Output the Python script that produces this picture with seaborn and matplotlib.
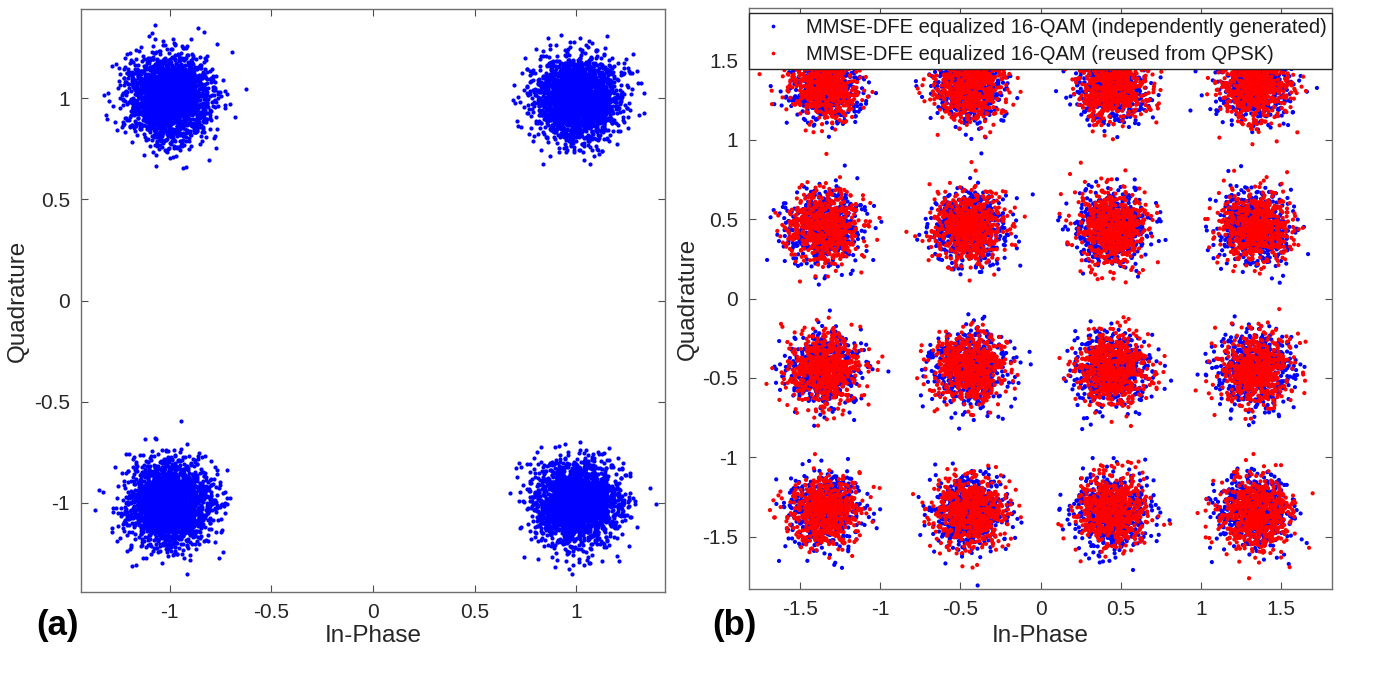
import numpy as np
import pandas as pd
import seaborn as sns
import matplotlib.pyplot as plt
from matplotlib.ticker import FuncFormatter

# constellation centres
qpsk_levels = [-1.0, 1.0]
qam_levels = [-1.342, -0.447, 0.447, 1.342]

# spread / count per cluster estimated from the clouds
qpsk_sigma = 0.10
qam_sigma_indep = 0.11
qam_sigma_reused = 0.11
qpsk_per_cluster = 2500
qam_per_cluster = 625

legend_labels = ['MMSE-DFE equalized 16-QAM (independently generated)',
                 'MMSE-DFE equalized 16-QAM (reused from QPSK)']

# noise samples around the centres (the picture is a noise cloud)
rng = np.random.default_rng(7)


def cloud(levels, sigma, n):
    rows = []
    for i in levels:
        for q in levels:
            rows.append(pd.DataFrame({
                'I': i + sigma * rng.standard_normal(n),
                'Q': q + sigma * rng.standard_normal(n),
            }))
    return pd.concat(rows, ignore_index=True)


qpsk_df = cloud(qpsk_levels, qpsk_sigma, qpsk_per_cluster)
qam_a = cloud(qam_levels, qam_sigma_indep, qam_per_cluster)
qam_a['kind'] = legend_labels[0]
qam_b = cloud(qam_levels, qam_sigma_reused, qam_per_cluster)
qam_b['kind'] = legend_labels[1]
qam_df = pd.concat([qam_a, qam_b], ignore_index=True)

sns.set_style('white')
plt.rcParams['font.family'] = ['Liberation Sans', 'DejaVu Sans']
plt.rcParams['axes.unicode_minus'] = False

fig = plt.figure(figsize=(13.75, 6.84), dpi=100)
ax_a = fig.add_axes([81 / 1375, 1 - 592 / 684, 584 / 1375, 583 / 684])
ax_b = fig.add_axes([749 / 1375, 1 - 589 / 684, 583 / 1375, 581 / 684])

sns.scatterplot(data=qpsk_df, x='I', y='Q', color='#0000ff', s=9,
                linewidth=0, ax=ax_a, legend=False)
sns.scatterplot(data=qam_df, x='I', y='Q', hue='kind',
                palette=['#0000ff', '#ff0000'], s=9, linewidth=0, ax=ax_b)

fmt = FuncFormatter(lambda v, p: '%g' % v)
ax_a.set_xlim(-1.435, 1.435)
ax_a.set_ylim(-1.44, 1.44)
ax_a.set_xticks([-1, -0.5, 0, 0.5, 1])
ax_a.set_yticks([-1, -0.5, 0, 0.5, 1])
ax_b.set_xlim(-1.818, 1.818)
ax_b.set_ylim(-1.83, 1.83)
ax_b.set_xticks([-1.5, -1, -0.5, 0, 0.5, 1, 1.5])
ax_b.set_yticks([-1.5, -1, -0.5, 0, 0.5, 1, 1.5])

for ax, ylab_x, bottom in ((ax_a, -0.108, 592), (ax_b, -0.105, 589)):
    ax.xaxis.set_major_formatter(fmt)
    ax.yaxis.set_major_formatter(fmt)
    ax.tick_params(direction='in', length=5, width=0.8,
                   bottom=True, left=True, top=True, right=True,
                   color='#4d4d4d', labelcolor='#262626', labelsize=15, pad=8)
    for sp in ax.spines.values():
        sp.set_color('#6e6e6e')
        sp.set_linewidth(1.0)
    ax.set_xlabel('In-Phase', fontsize=17.5, color='#262626', va='center')
    ax.set_ylabel('Quadrature', fontsize=17.5, color='#262626', va='center')
    ax.xaxis.set_label_coords(0.5, -(636 - bottom) / 583)
    ax.yaxis.set_label_coords(ylab_x, 0.5)

leg = ax_b.legend(loc='upper left', bbox_to_anchor=(0, 0.991, 1, 0), mode='expand',
                  borderaxespad=0, fontsize=14.5, frameon=True, fancybox=False,
                  markerscale=0.9, handletextpad=0.7, borderpad=0.25,
                  labelspacing=0.38, handlelength=1.9)
leg.get_frame().set_edgecolor('#262626')
leg.get_frame().set_linewidth(1.0)
leg.get_frame().set_alpha(1)
for t in leg.get_texts():
    t.set_color('#1a1a1a')

fig.text(58 / 1375, 1 - 625 / 684, '(a)', fontsize=25, fontweight='bold',
         color='black', ha='center', va='center')
fig.text(734 / 1375, 1 - 625 / 684, '(b)', fontsize=25, fontweight='bold',
         color='black', ha='center', va='center')

fig.savefig('out.png', dpi=100)
